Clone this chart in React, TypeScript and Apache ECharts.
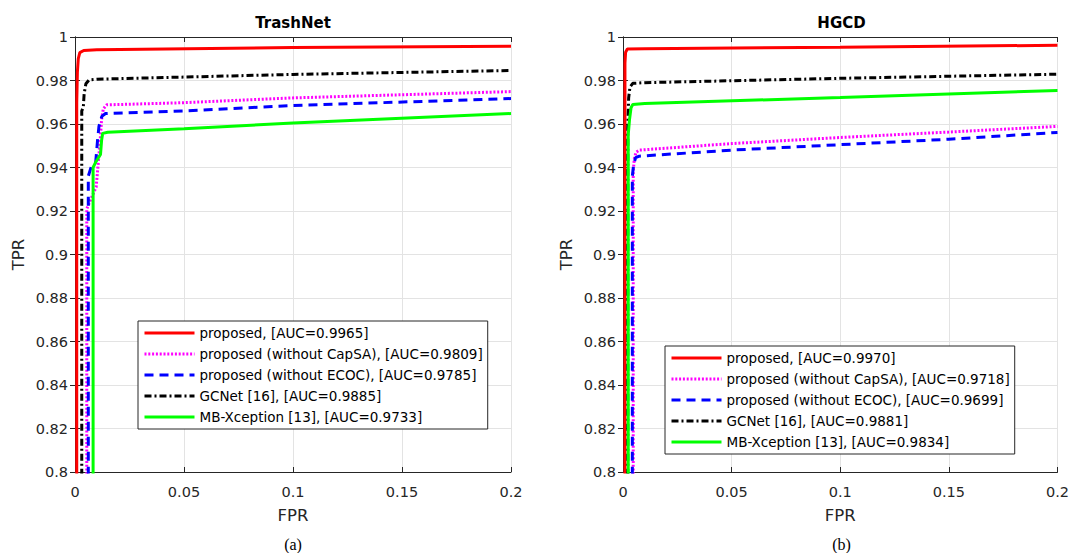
import React, { useEffect, useRef } from "react";
import * as echarts from "echarts";

// ---------- data ----------
const panelTitles = ["TrashNet", "HGCD"];
const panelCaptions = ["(a)", "(b)"];
const seriesColors = ["#ff0000", "#ff00ff", "#0000ff", "#000000", "#00ff00"];

const trashNames = [
  "proposed, [AUC=0.9965]",
  "proposed (without CapSA), [AUC=0.9809]",
  "proposed (without ECOC), [AUC=0.9785]",
  "GCNet [16], [AUC=0.9885]",
  "MB-Xception [13], [AUC=0.9733]",
];
const hgcdNames = [
  "proposed, [AUC=0.9970]",
  "proposed (without CapSA), [AUC=0.9718]",
  "proposed (without ECOC), [AUC=0.9699]",
  "GCNet [16], [AUC=0.9881]",
  "MB-Xception [13], [AUC=0.9834]",
];

const trashProposed = [[0.0008, 0.75], [0.0008, 0.97], [0.0011, 0.984], [0.0015, 0.99], [0.0022, 0.9928], [0.004, 0.9938], [0.01, 0.9941], [0.1, 0.9952], [0.2, 0.9958]];
const trashNoCapSA = [[0.0054, 0.75], [0.0054, 0.921], [0.0075, 0.926], [0.0097, 0.931], [0.0105, 0.94], [0.0115, 0.952], [0.0122, 0.962], [0.013, 0.967], [0.0145, 0.9688], [0.05, 0.9698], [0.1, 0.972], [0.2, 0.9749]];
const trashNoECOC = [[0.0061, 0.75], [0.0061, 0.936], [0.0075, 0.9405], [0.0095, 0.9425], [0.0103, 0.952], [0.011, 0.959], [0.0123, 0.9635], [0.014, 0.9648], [0.05, 0.966], [0.1, 0.9685], [0.2, 0.9717]];
const trashGCNet = [[0.0031, 0.75], [0.0031, 0.966], [0.0038, 0.9675], [0.0042, 0.974], [0.005, 0.9785], [0.0065, 0.9803], [0.01, 0.9806], [0.1, 0.9828], [0.2, 0.9846]];
const trashMBX = [[0.0083, 0.75], [0.0083, 0.94], [0.0095, 0.9425], [0.0117, 0.946], [0.0122, 0.9525], [0.0127, 0.9557], [0.015, 0.9562], [0.05, 0.9578], [0.1, 0.9605], [0.2, 0.9648]];

const hgcdProposed = [[0.0009, 0.75], [0.0009, 0.988], [0.0012, 0.993], [0.002, 0.9945], [0.01, 0.9946], [0.1, 0.9953], [0.2, 0.9962]];
const hgcdNoCapSA = [[0.0047, 0.75], [0.0047, 0.938], [0.0052, 0.944], [0.006, 0.947], [0.0075, 0.948], [0.05, 0.951], [0.1, 0.9538], [0.15, 0.9563], [0.2, 0.9589]];
const hgcdNoECOC = [[0.0043, 0.75], [0.0043, 0.936], [0.0049, 0.9415], [0.0058, 0.9445], [0.0075, 0.9452], [0.05, 0.948], [0.1, 0.9505], [0.15, 0.953], [0.2, 0.9561]];
const hgcdGCNet = [[0.0022, 0.75], [0.0022, 0.958], [0.0026, 0.972], [0.0032, 0.977], [0.0045, 0.9787], [0.01, 0.979], [0.1, 0.981], [0.2, 0.9829]];
const hgcdMBX = [[0.0024, 0.75], [0.0024, 0.955], [0.003, 0.962], [0.0037, 0.9675], [0.0045, 0.969], [0.01, 0.9694], [0.1, 0.9722], [0.2, 0.9754]];

const xMin = 0, xMax = 0.2, xStep = 0.05;
const yMin = 0.8, yMax = 1, yStep = 0.02;

const FONT = "'DejaVu Sans', sans-serif";

const lineTypes: any[] = ["solid", [2, 1.8], [9, 6], [7, 3, 2, 3], "solid"];
const lineWidths = [3, 3, 3, 3, 3];

export default function App() {
  const ref = useRef<HTMLDivElement>(null);
  useEffect(() => {
    document.body.style.margin = "0";
    const chart = echarts.init(ref.current!, null, { renderer: "svg" });

    const grids = [
      { left: 75, top: 37, width: 436, height: 435 },
      { left: 623, top: 37, width: 437, height: 435 },
    ];
    const fmt = (v: number) => String(+v.toFixed(4));

    const xAxes: any[] = [];
    const yAxes: any[] = [];
    [0, 1].forEach((g) => {
      xAxes.push({
        type: "value", gridIndex: g, min: xMin, max: xMax, interval: xStep, position: "bottom",
        name: "FPR", nameLocation: "middle", nameGap: 35,
        nameTextStyle: { fontFamily: FONT, fontSize: 16.5, color: "#262626" },
        axisLine: { show: true, lineStyle: { color: "#262626", width: 1 } },
        axisTick: { show: true, inside: true, length: 5, lineStyle: { color: "#262626" } },
        axisLabel: { fontFamily: FONT, fontSize: 14.5, color: "#262626", margin: 12, formatter: fmt },
        splitLine: { show: true, lineStyle: { color: "#e3e3e3", width: 1 } },
      });
      xAxes.push({
        type: "value", gridIndex: g, min: xMin, max: xMax, interval: xStep, position: "top",
        axisLine: { show: true, lineStyle: { color: "#262626", width: 1 } },
        axisTick: { show: true, inside: true, length: 5, lineStyle: { color: "#262626" } },
        axisLabel: { show: false }, splitLine: { show: false },
      });
      yAxes.push({
        type: "value", gridIndex: g, min: yMin, max: yMax, interval: yStep, position: "left",
        name: "TPR", nameLocation: "middle", nameGap: 48,
        nameTextStyle: { fontFamily: FONT, fontSize: 16.5, color: "#262626" },
        axisLine: { show: true, lineStyle: { color: "#262626", width: 1 } },
        axisTick: { show: true, inside: true, length: 5, lineStyle: { color: "#262626" } },
        axisLabel: { fontFamily: FONT, fontSize: 14.5, color: "#262626", margin: 7, formatter: fmt },
        splitLine: { show: true, lineStyle: { color: "#e3e3e3", width: 1 } },
      });
      yAxes.push({
        type: "value", gridIndex: g, min: yMin, max: yMax, interval: yStep, position: "right",
        axisLine: { show: true, lineStyle: { color: "#262626", width: 1 } },
        axisTick: { show: true, inside: true, length: 5, lineStyle: { color: "#262626" } },
        axisLabel: { show: false }, splitLine: { show: false },
      });
    });

    const panels = [
      { names: trashNames, data: [trashProposed, trashNoCapSA, trashNoECOC, trashGCNet, trashMBX] },
      { names: hgcdNames, data: [hgcdProposed, hgcdNoCapSA, hgcdNoECOC, hgcdGCNet, hgcdMBX] },
    ];

    const series: any[] = [];
    panels.forEach((p, g) => {
      p.data.forEach((d, i) => {
        series.push({
          type: "line", name: p.names[i], data: d,
          xAxisIndex: g * 2, yAxisIndex: g * 2,
          symbol: "none", smooth: false, clip: true,
          lineStyle: { color: seriesColors[i], width: lineWidths[i], type: lineTypes[i], cap: "butt" },
          itemStyle: { color: seriesColors[i] },
          emphasis: { disabled: true },
        });
      });
    });

    const legendPos = [
      { left: 138, top: 321 },
      { left: 665, top: 346 },
    ];

    const legends = panels.map((p, g) => ({
      data: p.names, orient: "vertical", left: legendPos[g].left, top: legendPos[g].top,
      backgroundColor: "#ffffff", borderColor: "#262626", borderWidth: 1,
      padding: [5, 5, 5, 5], itemGap: 7, itemWidth: 50, itemHeight: 14,
      itemStyle: { opacity: 0 },
      lineStyle: { width: 3 },
      textStyle: { fontFamily: FONT, fontSize: 13.5, color: "#000" },
      selectedMode: false,
    }));

    const graphics: any[] = [];
    grids.forEach((gr, g) => {
      const cx = gr.left + gr.width / 2;
      graphics.push({
        type: "text", x: cx, y: 23,
        style: { text: panelTitles[g], fontFamily: FONT, fontSize: 15, fontWeight: "bold", fill: "#000", textAlign: "center", textVerticalAlign: "middle" },
      });
      graphics.push({
        type: "text", x: cx, y: 544,
        style: { text: panelCaptions[g], fontFamily: "'Liberation Serif', 'Times New Roman', serif", fontSize: 16, fill: "#000", textAlign: "center", textVerticalAlign: "middle" },
      });
    });

    chart.setOption({
      animation: false,
      backgroundColor: "#ffffff",
      grid: grids.map((g) => ({ ...g, show: false })),
      xAxis: xAxes,
      yAxis: yAxes,
      legend: legends,
      series,
      graphic: graphics,
    });
    return () => chart.dispose();
  }, []);
  return <div ref={ref} style={{ width: 1072, height: 553 }} />;
}
